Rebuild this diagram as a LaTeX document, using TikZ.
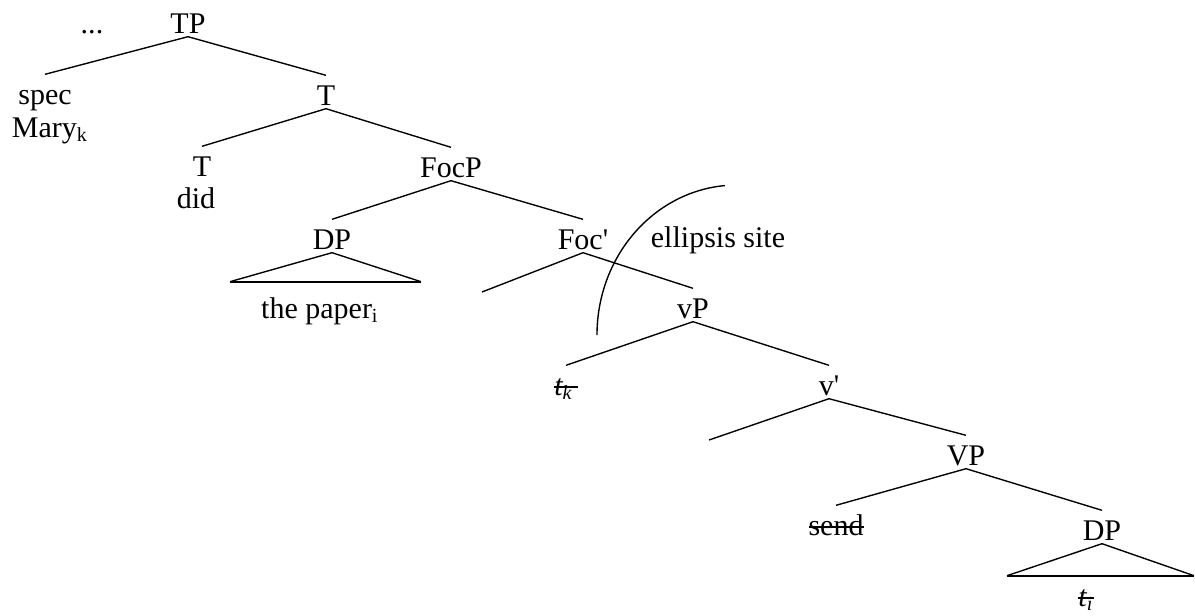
\documentclass[tikz,border=0pt]{standalone}
\usepackage{fontspec}
\setmainfont{Liberation Serif}[Ligatures=TeXOff]
\usetikzlibrary{calc}
\newcommand{\struck}[1]{\sbox0{#1}\rlap{\rule[0.25em]{\wd0}{0.5pt}}\usebox0}

\begin{document}
\begin{tikzpicture}[x=0.4pt,y=-0.4pt,line width=0.55pt,
  lbl/.style={anchor=base,inner sep=0pt,text height=11.6pt,text depth=1.2pt,
    font=\fontsize{12pt}{14pt}\selectfont},
  base/.style={line width=0.85pt}]
\useasboundingbox (0,0) rectangle (1195,615);

% TP
 \node[lbl] (dots) at (92,33) {...};
 \node[lbl] (TP) at (188,33) {TP};
 \node[lbl] (spec) at (45,104) {spec};
 \node[lbl] (Mary) at (50,137) {Mary\textsubscript{k}};
 \node[lbl] (T) at (326,105) {T};
 \node[lbl] (Tlow) at (202,176) {T};
 \node[lbl] (did) at (196,208) {did};

% FocP
 \node[lbl] (FocP) at (451,177) {FocP};
 \node[lbl] (DP) at (332,249) {DP};
 \node[lbl] (thepaper) at (320,318) {the paper\textsubscript{i}};
 \node[lbl] (Foc) at (583,249) {Foc'};
 \coordinate (focspec) at (482,292);
 \node[lbl] (site) at (718,247) {ellipsis site};

% vP
 \node[lbl] (vP) at (693,318) {vP};
 \node[lbl] (tk) at (566,395) {\struck{\textit{t\textsubscript{k}}\,}};
 \node[lbl] (vbar) at (829,395) {v'};
 \coordinate (vspec) at (709,440);

% VP
 \node[lbl] (VP) at (966,465) {VP};
 \node[lbl] (send) at (836,535) {\struck{send}};
 \node[lbl] (DPb) at (1102,540) {DP};
 \node[lbl] (ti) at (1086,606) {\struck{\textit{t\textsubscript{i}}}};

% Branches
 \draw (TP.south) -- (spec.north);
 \draw (TP.south) -- (T.north);
 \draw (T.south) -- (Tlow.north);
 \draw (T.south) -- (FocP.north);
 \draw (FocP.south) -- (DP.north);
 \draw (FocP.south) -- (Foc.north);
 \draw (Foc.south) -- (focspec);
 \draw (Foc.south) -- (vP.north);
 \draw (vP.south) -- (tk.north);
 \draw (vP.south) -- (vbar.north);
 \draw (vbar.south) -- (vspec);
 \draw (vbar.south) -- (VP.north);
 \draw (VP.south) -- (send.north);
 \draw (VP.south) -- (DPb.north);

% Triangles
 \coordinate (DPl) at ($(DP.south)+(-102,29)$);
 \coordinate (DPr) at ($(DP.south)+(89,29)$);
 \draw (DP.south) -- (DPl) (DP.south) -- (DPr);
 \draw[base] (DPl) -- (DPr);
 \coordinate (DPbl) at ($(DPb.south)+(-95,32)$);
 \coordinate (DPbr) at ($(DPb.south)+(92,32)$);
 \draw (DPb.south) -- (DPbl) (DPb.south) -- (DPbr);
 \draw[base] (DPbl) -- (DPbr);

% Ellipsis arc
 \coordinate (arcstart) at (597,335);
 \draw (arcstart) arc[start angle=180, end angle=265, x radius=140, y radius=150];

\end{tikzpicture}
\end{document}
